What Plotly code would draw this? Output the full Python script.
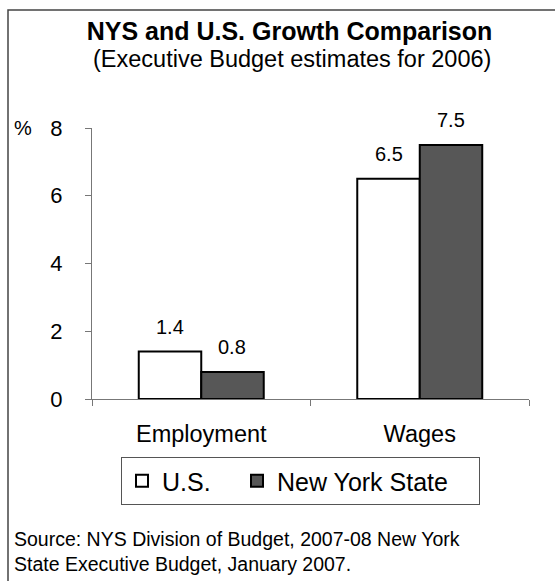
import plotly.graph_objects as go

categories = ["Employment", "Wages"]
us_values = [1.4, 6.5]
nys_values = [0.8, 7.5]
series_names = ["U.S.", "New York State"]
y_ticks = [0, 2, 4, 6, 8]

W, H = 555, 581
L, R, T, B = 92, 26, 128, 182
pw, ph = W - L - R, H - T - B

def px_x(x):
    return (x - L) / pw

def px_y(y):
    return (H - B - y) / ph

FONT = "Liberation Sans, Arial, sans-serif"
BARGAP = 0.428

fig = go.Figure()
fig.add_trace(go.Bar(
    x=categories, y=us_values, name=series_names[0], legendwidth=70,
    marker=dict(color="white", line=dict(color="black", width=2)),
))
fig.add_trace(go.Bar(
    x=categories, y=nys_values, name=series_names[1], legendwidth=197,
    marker=dict(color="#575757", line=dict(color="black", width=2)),
))

annotations = []
bar_w = pw / len(categories) * (1 - BARGAP) / 2
for vals, shift in ((us_values, -bar_w / 2), (nys_values, bar_w / 2)):
    for c, v in zip(categories, vals):
        annotations.append(dict(
            x=c, y=v, xref="x", yref="y", text=f"{v:.1f}", showarrow=False,
            xshift=shift, yshift=12, yanchor="bottom",
            font=dict(size=20, color="black", family=FONT),
        ))

annotations.append(dict(
    x=px_x(291.5), y=px_y(59), xref="paper", yref="paper",
    text="(Executive Budget estimates for 2006)", showarrow=False,
    xanchor="center", yanchor="middle",
    font=dict(size=23.5, color="black", family=FONT),
))
annotations.append(dict(
    x=px_x(23), y=px_y(128), xref="paper", yref="paper",
    text="%", showarrow=False, xanchor="center", yanchor="middle",
    font=dict(size=20, color="black", family=FONT),
))
annotations.append(dict(
    x=px_x(12), y=px_y(551), xref="paper", yref="paper",
    text="Source: NYS Division of Budget, 2007-08 New York<br>State Executive Budget, January 2007.",
    showarrow=False, xanchor="left", yanchor="middle", align="left",
    font=dict(size=19.5, color="black", family=FONT),
))

shapes = [dict(
    type="rect", xref="paper", yref="paper",
    x0=px_x(8), x1=px_x(557), y0=px_y(590), y1=px_y(10),
    line=dict(color="#444", width=1.5), fillcolor="rgba(0,0,0,0)", layer="below",
)]

fig.update_layout(
    width=W, height=H,
    margin=dict(l=L, r=R, t=T, b=B),
    paper_bgcolor="white", plot_bgcolor="white",
    barmode="group", bargap=BARGAP, bargroupgap=0,
    font=dict(family=FONT, color="black"),
    title=dict(
        text="<b>NYS and U.S. Growth Comparison</b>",
        x=289.5 / W, xref="container", xanchor="center",
        y=1 - 31 / H, yref="container", yanchor="middle",
        font=dict(size=25, color="black", family=FONT),
    ),
    xaxis=dict(
        showline=True, linecolor="#777", linewidth=1,
        ticks="outside", tickson="boundaries", ticklen=6, tickcolor="#777",
        ticklabelstandoff=14,
        tickfont=dict(size=23.5, color="black", family=FONT),
        showgrid=False, zeroline=False, fixedrange=True,
    ),
    yaxis=dict(
        range=[0, 8], tickvals=y_ticks, ticktext=[str(t) for t in y_ticks],
        showline=True, linecolor="#777", linewidth=1,
        ticks="outside", ticklen=6, tickcolor="#777",
        ticklabelstandoff=18,
        tickfont=dict(size=22, color="black", family=FONT),
        showgrid=False, zeroline=False, fixedrange=True,
    ),
    showlegend=True,
    legend=dict(
        orientation="h", x=px_x(121), xanchor="left",
        y=px_y(457), yanchor="top",
        bordercolor="#555", borderwidth=1, bgcolor="white",
        font=dict(size=25, color="black", family=FONT),
        traceorder="normal", entrywidthmode="pixels",
    ),
    annotations=annotations,
    shapes=shapes,
)

fig.write_html("out.html")
